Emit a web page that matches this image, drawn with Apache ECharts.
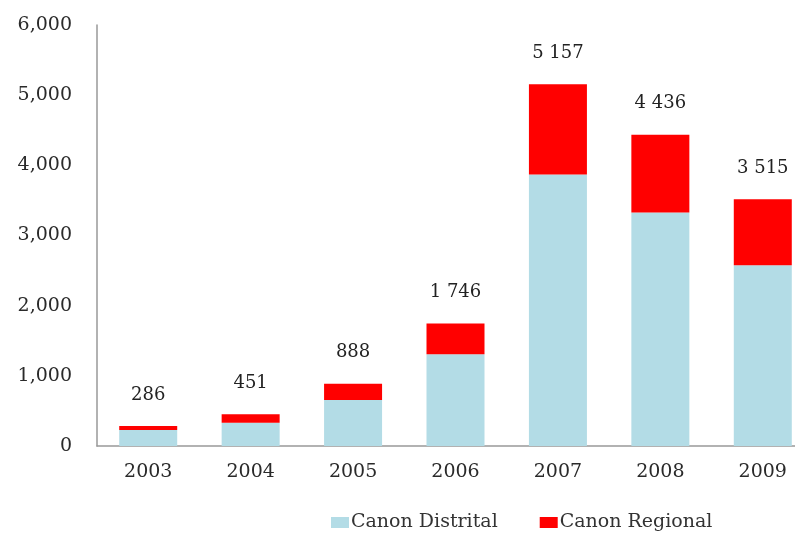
<!DOCTYPE html>
<html>
<head>
<meta charset="utf-8">
<script src="https://cdn.jsdelivr.net/npm/echarts@6/dist/echarts.min.js"></script>
<style>
html,body{margin:0;padding:0;background:#fff;}
#chart{width:795px;height:533px;}
</style>
</head>
<body>
<div id="chart"></div>
<script>
var years = ['2003','2004','2005','2006','2007','2008','2009'];
var canonDistrital = [228, 331, 654, 1309, 3869, 3329, 2575];
var canonRegional = [58, 120, 234, 437, 1288, 1107, 940];
var totals = [286, 451, 888, 1746, 5157, 4436, 3515];
var yTicks = [0, 1000, 2000, 3000, 4000, 5000, 6000];

function spaceSep(v){ return String(v).replace(/\B(?=(\d{3})+(?!\d))/g, ' '); }
function commaSep(v){ return String(v).replace(/\B(?=(\d{3})+(?!\d))/g, ','); }

var serif = '"DejaVu Serif", "Liberation Serif", serif';
var chart = echarts.init(document.getElementById('chart'));
chart.setOption({
  animation: false,
  backgroundColor: '#fff',
  grid: { left: 97, width: 717, top: 25, bottom: 87, containLabel: false, outerBoundsMode: 'none' },
  legend: {
    left: 326, top: 508,
    itemWidth: 18, itemHeight: 11, itemGap: 42,
    icon: 'rect',
    textStyle: { fontFamily: serif, fontSize: 19, color: '#333', padding: [0,0,0,-3] },
    data: ['Canon Distrital', 'Canon Regional']
  },
  xAxis: {
    type: 'category',
    data: years,
    axisLine: { lineStyle: { color: '#999', width: 1.5 } },
    axisTick: { show: false },
    axisLabel: { fontFamily: serif, fontSize: 19, color: '#2a2a2a', margin: 17 }
  },
  yAxis: {
    type: 'value',
    min: yTicks[0], max: yTicks[yTicks.length-1], interval: 1000,
    axisLine: { show: true, lineStyle: { color: '#999', width: 1.5 } },
    axisTick: { show: false },
    splitLine: { show: false },
    axisLabel: { fontFamily: serif, fontSize: 19, color: '#2a2a2a', margin: 25,
      formatter: function(v){ return commaSep(v); } }
  },
  series: [
    {
      name: 'Canon Distrital', type: 'bar', stack: 'total', barWidth: 58,
      itemStyle: { color: '#b3dce6' },
      data: canonDistrital
    },
    {
      name: 'Canon Regional', type: 'bar', stack: 'total', barWidth: 58,
      itemStyle: { color: '#ff0000' },
      data: canonRegional,
      label: {
        show: true, position: 'top', distance: 22,
        fontFamily: serif, fontSize: 18, color: '#222',
        formatter: function(p){ return spaceSep(totals[p.dataIndex]); }
      }
    }
  ]
});
</script>
</body>
</html>
